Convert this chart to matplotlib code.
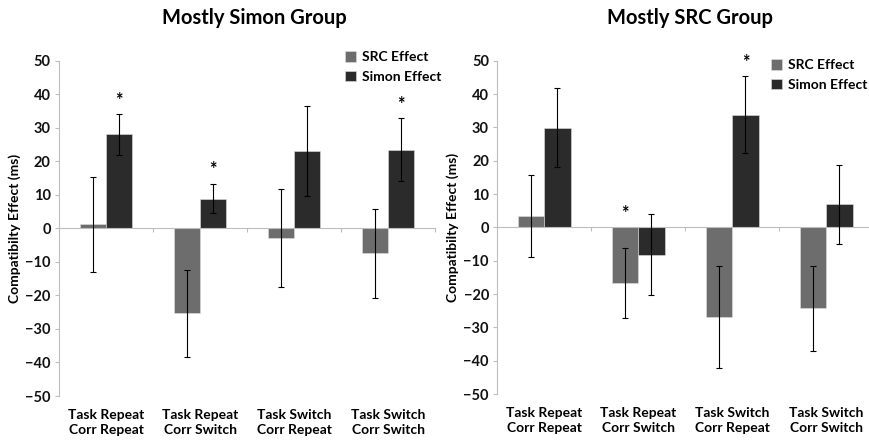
import matplotlib
matplotlib.use("Agg")
import matplotlib.pyplot as plt
from matplotlib.patches import Patch
from matplotlib.transforms import blended_transform_factory

plt.rcParams['font.family'] = ['Lato', 'DejaVu Sans']
plt.rcParams['font.weight'] = 'bold'

categories = [("Task Repeat", "Corr Repeat"), ("Task Repeat", "Corr Switch"),
              ("Task Switch", "Corr Repeat"), ("Task Switch", "Corr Switch")]
series_names = ["SRC Effect", "Simon Effect"]

# Mostly Simon group
simon_grp_src = [1.2, -25.3, -2.9, -7.5]
simon_grp_src_err = [14.2, 13.0, 14.6, 13.2]
simon_grp_simon = [28.0, 8.9, 23.0, 23.4]
simon_grp_simon_err = [6.0, 4.4, 13.4, 9.4]
simon_grp_stars = [(0, 1), (1, 1), (3, 1)]   # (category, series)

# Mostly SRC group
src_grp_src = [3.4, -16.8, -27.0, -24.3]
src_grp_src_err = [12.2, 10.5, 15.3, 12.8]
src_grp_simon = [29.9, -8.2, 33.8, 6.9]
src_grp_simon_err = [11.8, 12.2, 11.5, 11.9]
src_grp_stars = [(1, 0), (2, 1)]

colors = ["#6d6d6d", "#2b2b2b"]
spine_col = "#bdbdbd"

fig = plt.figure(figsize=(8.69, 4.41), dpi=100)


def panel(rect, title, title_xy, src, src_err, sim, sim_err, stars, leg_xy):
    ax = fig.add_axes(rect)
    n = len(categories)
    xs = list(range(n))
    w = 0.28
    vals = [src, sim]
    errs = [src_err, sim_err]
    for s in range(2):
        pos = [x + (s - 0.5) * w for x in xs]
        ax.bar(pos, vals[s], width=w, color=colors[s], edgecolor="#e0e0e0",
               linewidth=0.4, zorder=2)
        ax.errorbar(pos, vals[s], yerr=errs[s], fmt="none", ecolor="black",
                    elinewidth=0.8, capsize=2, capthick=0.8, zorder=3)
    for c, s in stars:
        top = max(vals[s][c] + errs[s][c], 0)
        ax.text(c + (s - 0.5) * w, top + 4.2, "*", ha="center", va="center",
                fontsize=13, fontweight="bold")
    ax.set_xlim(-0.5, n - 0.5)
    ax.set_ylim(-50, 50)
    ax.set_yticks(range(-50, 51, 10))
    ax.tick_params(axis="y", length=3, color=spine_col, labelsize=10.5,
                   pad=3, labelcolor="#111111")
    for lab in ax.get_yticklabels():
        lab.set_fontweight("bold")
    ax.spines["top"].set_visible(False)
    ax.spines["right"].set_visible(False)
    ax.spines["left"].set_color(spine_col)
    ax.spines["bottom"].set_color(spine_col)
    ax.spines["bottom"].set_position(("data", 0))
    ax.set_xticks([x + 0.5 for x in xs])
    ax.set_xticklabels([])
    ax.tick_params(axis="x", length=3, color=spine_col, direction="out")
    tr = blended_transform_factory(ax.transData, ax.transAxes)
    for x, (l1, l2) in zip(xs, categories):
        ax.text(x, -0.04, l1 + "\n" + l2, transform=tr, ha="center", va="top",
                fontsize=10, fontweight="bold", linespacing=1.3)
    ax.set_ylabel("Compatibilty Effect (ms)", fontsize=10, fontweight="bold",
                  labelpad=3)
    fig.text(title_xy[0], title_xy[1], title, ha="center", va="center",
             fontsize=14.5, fontweight="bold")
    handles = [Patch(facecolor=colors[i], edgecolor="#e0e0e0", linewidth=0.4,
                     label=series_names[i]) for i in range(2)]
    ax.legend(handles=handles, loc="upper left", bbox_to_anchor=leg_xy,
              bbox_transform=fig.transFigure, frameon=False, fontsize=10,
              handlelength=0.8, handleheight=0.8, handletextpad=0.4,
              labelspacing=0.55, borderaxespad=0, borderpad=0)
    return ax


panel([59 / 869, 1 - 396 / 441, 376 / 869, (396 - 60.7) / 441],
      "Mostly Simon Group", (254 / 869, 1 - 18 / 441),
      simon_grp_src, simon_grp_src_err, simon_grp_simon, simon_grp_simon_err,
      simon_grp_stars, (345 / 869, 1 - 51 / 441))
panel([497.3 / 869, 1 - 394 / 441, 376 / 869, (394 - 60.7) / 441],
      "Mostly SRC Group", (690 / 869, 1 - 18 / 441),
      src_grp_src, src_grp_src_err, src_grp_simon, src_grp_simon_err,
      src_grp_stars, (771 / 869, 1 - 59 / 441))

fig.savefig("out.png", dpi=100)
